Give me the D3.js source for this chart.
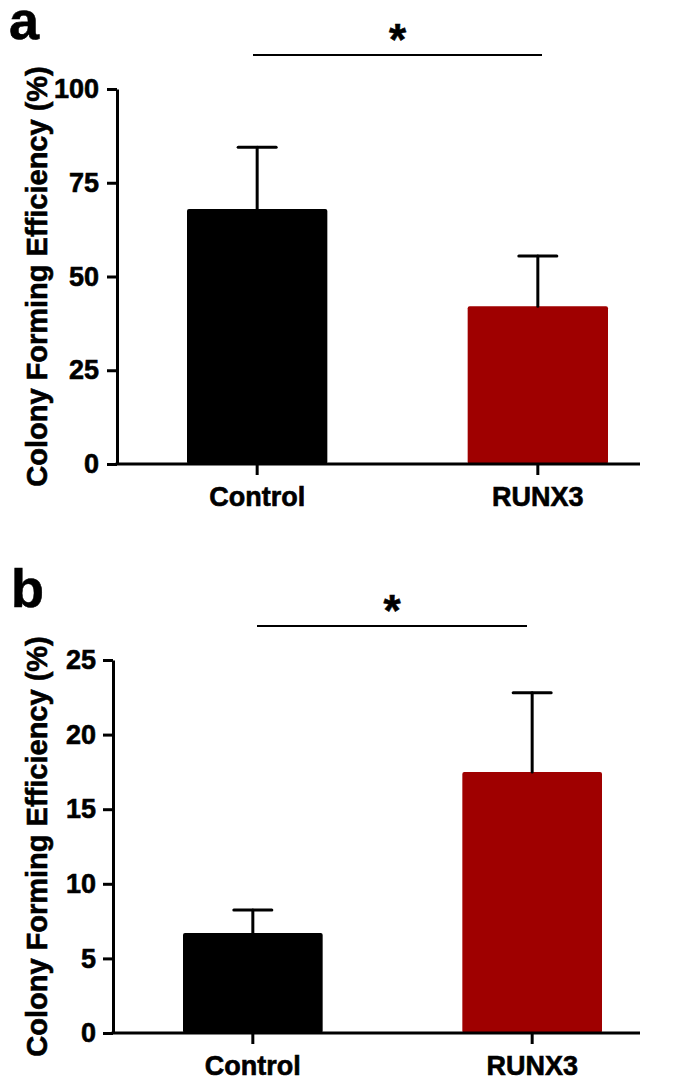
<!DOCTYPE html>
<html>
<head>
<meta charset="utf-8">
<script src="https://cdn.jsdelivr.net/npm/d3@7"></script>
<style>
  body { margin: 0; background: #fff; }
  svg text { font-family: "Liberation Sans", Arial, sans-serif; font-weight: bold; fill: #000; }
</style>
</head>
<body>
<div id="chart"></div>
<script>
// Data
const groups = ["Control", "RUNX3"];
const barColors = ["#000000", "#9f0000"];

const meansA = [68, 42.1];
const errorsA = [16.5, 13.4];
const ticksA = [0, 25, 50, 75, 100];

const meansB = [6.7, 17.5];
const errorsB = [1.55, 5.3];
const ticksB = [0, 5, 10, 15, 20, 25];

const yLabel = "Colony Forming Efficiency (%)";

const svg = d3.select("#chart").append("svg")
    .attr("width", 685)
    .attr("height", 1084);

// Layout for each panel (pixel placement only)
const panels = [
    { letter: "a", means: meansA, errors: errorsA, ticks: ticksA, max: 100,
      axisX: 117, top: 89, bottom: 464, barRange: [187, 608], axisEnd: 640,
      letterX: 9, letterY: 39, sigY: 55, sigX: [253, 542], tickPad: 8 },
    { letter: "b", means: meansB, errors: errorsB, ticks: ticksB, max: 25,
      axisX: 113, top: 660, bottom: 1033, barRange: [183, 602], axisEnd: 640,
      letterX: 11, letterY: 607, sigY: 626, sigX: [257, 527], tickPad: 7 }
];

// slight outline so the text reads as heavy as the scanned figure
function heavy(sel) {
    sel.attr("stroke", "#000").attr("stroke-width", 0.6);
}

panels.forEach(p => {
    const g = svg.append("g");

    const y = d3.scaleLinear().domain([0, p.max]).range([p.bottom, p.top]);
    const x = d3.scaleBand().domain(groups).range(p.barRange)
        .paddingInner(0.5).paddingOuter(0);

    // Panel letter
    g.append("text")
        .attr("x", p.letterX)
        .attr("y", p.letterY)
        .style("font-size", "54px")
        .call(heavy)
        .text(p.letter);

    // Bars
    g.selectAll(".bar")
        .data(groups)
        .enter().append("rect")
        .attr("class", "bar")
        .attr("x", d => x(d))
        .attr("y", (d, i) => y(p.means[i]))
        .attr("width", x.bandwidth())
        .attr("height", (d, i) => y(0) - y(p.means[i]))
        .attr("rx", 2)
        .attr("fill", (d, i) => barColors[i]);

    // Error bars (upper only)
    const eb = g.selectAll(".err")
        .data(groups)
        .enter().append("g")
        .attr("class", "err")
        .attr("stroke", "#000")
        .attr("stroke-width", 3)
        .attr("stroke-linecap", "round");
    eb.append("line")
        .attr("x1", d => x(d) + x.bandwidth() / 2)
        .attr("x2", d => x(d) + x.bandwidth() / 2)
        .attr("y1", (d, i) => y(p.means[i]))
        .attr("y2", (d, i) => y(p.means[i] + p.errors[i]));
    eb.append("line")
        .attr("x1", d => x(d) + x.bandwidth() / 2 - 19)
        .attr("x2", d => x(d) + x.bandwidth() / 2 + 19)
        .attr("y1", (d, i) => y(p.means[i] + p.errors[i]))
        .attr("y2", (d, i) => y(p.means[i] + p.errors[i]));

    // Y axis
    const yAxis = g.append("g")
        .attr("transform", `translate(${p.axisX},0)`)
        .call(d3.axisLeft(y).tickValues(p.ticks).tickSize(10).tickSizeOuter(0).tickPadding(p.tickPad));
    yAxis.select(".domain").attr("stroke-width", 3);
    yAxis.selectAll(".tick line").attr("stroke-width", 3);
    yAxis.selectAll(".tick text")
        .style("font-size", "27px")
        .style("font-family", "'Liberation Sans', Arial, sans-serif")
        .style("font-weight", "bold")
        .call(heavy);

    // X axis baseline
    g.append("line")
        .attr("x1", p.axisX - 1.5)
        .attr("x2", p.axisEnd)
        .attr("y1", y(0))
        .attr("y2", y(0))
        .attr("stroke", "#000")
        .attr("stroke-width", 3);

    // X ticks and labels
    const xt = g.selectAll(".xtick")
        .data(groups)
        .enter().append("g")
        .attr("class", "xtick")
        .attr("transform", d => `translate(${x(d) + x.bandwidth() / 2},${y(0)})`);
    xt.append("line")
        .attr("y2", 11)
        .attr("stroke", "#000")
        .attr("stroke-width", 3);
    xt.append("text")
        .attr("y", 42)
        .attr("text-anchor", "middle")
        .style("font-size", "27px")
        .call(heavy)
        .text(d => d);

    // Y axis title
    g.append("text")
        .attr("transform", `translate(47,${(p.top + p.bottom) / 2}) rotate(-90)`)
        .attr("text-anchor", "middle")
        .style("font-size", "29px")
        .call(heavy)
        .text(yLabel);

    // Significance bar
    g.append("line")
        .attr("x1", p.sigX[0])
        .attr("x2", p.sigX[1])
        .attr("y1", p.sigY)
        .attr("y2", p.sigY)
        .attr("stroke", "#000")
        .attr("stroke-width", 2);
    g.append("text")
        .attr("x", (p.sigX[0] + p.sigX[1]) / 2)
        .attr("y", p.sigY)
        .attr("text-anchor", "middle")
        .style("font-size", "44px")
        .call(heavy)
        .text("*");
});
</script>
</body>
</html>
